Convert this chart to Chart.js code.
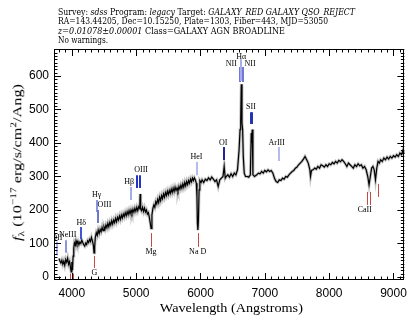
<!DOCTYPE html>
<html><head><meta charset="utf-8">
<script src="https://cdn.jsdelivr.net/npm/chart.js@4/dist/chart.umd.min.js"></script>
<style>
html,body{margin:0;padding:0;background:#fff;}
#wrap{position:relative;width:413px;height:315px;overflow:hidden;background:#fff;}
canvas{position:absolute;left:0;top:0;}
.t{position:absolute;white-space:nowrap;font-family:"DejaVu Serif",serif;color:#000;line-height:1;}
.h{font-size:9px;transform-origin:0 0;left:58px;}
.s{font-family:"Liberation Serif",serif;}
sup{font-size:70%;vertical-align:0.55em;line-height:0;}
sub{font-size:70%;vertical-align:-0.3em;line-height:0;}
</style></head><body>
<div id="wrap">
<canvas id="c" width="413" height="315"></canvas>
<div class="t h" id="h1" style="top:8px">Survey: <i>sdss</i> Program: <i>legacy</i> Target: <i>GALAXY_RED GALAXY QSO_REJECT</i></div>
<div class="t h" id="h2" style="top:17px">RA=143.44205, Dec=10.15250, Plate=1303, Fiber=443, MJD=53050</div>
<div class="t h" id="h3" style="top:27px"><i>z=0.01078±0.00001</i> Class=GALAXY AGN BROADLINE</div>
<div class="t h" id="h4" style="top:36px">No warnings.</div>
<div class="t s" id="ytitle" style="font-size:13px"><i>f</i><sub>λ</sub> (10<sup>−17</sup> erg/s/cm<sup>2</sup>/Ang)</div>
<div class="t s" id="xtitle" style="font-size:13px">Wavelength (Angstroms)</div>
</div>
<script>
// ---- data ----
const waves = [3800,3815,3830,3845,3860,3875,3890,3905,3920,3935,3950,3965,3980,3990,4000,4010,4020,4030,4040,4055,4065,4080,4095,4110,4125,4140,4155,4170,4185,4200,4215,4230,4245,4260,4275,4290,4305,4320,4335,4345,4355,4365,4380,4395,4410,4425,4440,4455,4470,4485,4500,4515,4530,4545,4560,4575,4590,4605,4620,4635,4650,4665,4680,4695,4710,4725,4740,4755,4770,4785,4800,4815,4830,4845,4860,4875,4890,4905,4920,4935,4950,4965,4980,4995,5010,5025,5040,5055,5062,5070,5085,5100,5115,5130,5145,5160,5175,5190,5205,5220,5232,5245,5260,5275,5290,5305,5320,5335,5350,5365,5380,5395,5410,5425,5440,5455,5470,5485,5500,5515,5530,5545,5560,5575,5590,5605,5620,5635,5650,5665,5680,5695,5710,5725,5740,5755,5770,5785,5800,5815,5830,5845,5860,5875,5890,5905,5920,5935,5945,5952,5960,5968,5978,5990,6010,6025,6050,6075,6100,6125,6150,6175,6200,6225,6250,6275,6300,6325,6350,6368,6385,6400,6425,6450,6475,6500,6525,6550,6575,6600,6615,6625,6634,6645,6655,6665,6680,6700,6725,6750,6775,6789,6796,6804,6815,6840,6875,6900,6925,6950,6975,7000,7025,7050,7075,7100,7125,7150,7175,7200,7225,7250,7275,7300,7325,7350,7375,7400,7425,7450,7475,7500,7525,7550,7575,7600,7625,7650,7675,7700,7710,7725,7750,7775,7800,7825,7850,7875,7900,7925,7950,7975,8000,8025,8050,8075,8100,8125,8150,8175,8200,8225,8250,8275,8300,8325,8350,8375,8400,8425,8450,8475,8500,8525,8550,8575,8600,8620,8640,8660,8680,8700,8720,8740,8760,8780,8800,8825,8850,8875,8900,8925,8950,8975,9000,9025,9050,9075,9100,9125,9150,9175,9200];
const flux = [55,48,42,50,38,47,35,52,44,56,38,46,28,15,45,20,62,85,102,95,108,98,106,96,104,100,110,103,96,92,101,97,108,103,112,106,118,108,95,72,90,118,132,124,140,130,142,135,148,138,150,142,155,147,160,150,163,155,168,158,170,162,175,165,178,170,182,172,185,176,188,180,192,183,195,186,198,188,200,190,202,193,205,196,208,198,210,205,248,205,198,208,196,206,194,200,188,192,178,160,145,185,205,215,208,225,218,232,222,238,228,243,234,248,238,252,243,256,246,258,249,262,252,265,255,268,258,266,256,270,262,274,265,278,268,282,272,285,276,288,280,292,284,295,288,296,290,280,240,160,140,170,260,288,282,290,282,292,288,296,290,298,292,285,290,270,290,295,300,330,295,300,305,298,308,300,310,305,320,380,440,470,575,460,440,360,310,300,300,298,305,430,400,440,305,300,305,310,308,315,310,318,314,320,315,318,310,295,285,282,290,288,295,292,300,298,305,310,315,318,325,328,335,340,345,352,360,350,340,320,300,318,320,325,322,330,325,335,332,328,335,330,338,335,342,338,345,340,348,344,350,345,338,330,340,335,330,325,335,330,338,332,335,325,330,320,300,275,300,325,330,320,290,325,345,340,350,345,355,350,358,352,360,355,362,358,365,360,370,365,380,368,375];
const xTickValues = [4000,5000,6000,7000,8000,9000];
const yTickValues = [0,100,200,300,400,500,600];
const xRange = [3723, 9169];
const yRange = [-9, 680.6];

// emission line markers (observed wavelengths, flux range of bar, label position)
const emName   = ['OII','NeIII','Hδ','Hγ','OIII','Hβ','OIII','HeI','OI','NII','Hα','NII','SII','ArIII'];
const emWaves  = [[3767],[3911],[4146],[4387],[4410],[4913],[5012,5061],[5939],[6368],[6619],[6634],[6655],[6789,6804],[7213]];
const emLow    = [65,72,113,194,161,230,266,304,349,582,585,582,457,346];
const emHigh   = [105,110,149,230,200,269,304,343,388,627,650,627,492,388];
const emLabelX = [3767,3935,4146,4385,4508,4892,5077,5938,6354,6480,6634,6770,6785,7185];
const emLabelY = [118,125,161,245,215,283,319,358,400,636,657,636,507,400];
const emColor  = ['#aab2ea','#8c94dc','#4454d4','#8c94e2','#6c78cc','#a4acea','#2434c4','#b4bcec','#22229a','#7078d8','#a8acea','#7078d8','#2434b4','#b4bcec'];

// absorption line markers
const abName   = ['','G','Mg','Na D','CaII'];
const abWaves  = [[3976,4012],[4350],[5231],[5956],[8590,8634]];
const abLow    = [-15,27,90,90,215];
const abHigh   = [10,63,131,131,254];
const abLabelX = [4000,4350,5231,5956,8554];
const abLabelY = [-30,12,75,75,200];
const abExtraWave = [8755], abExtraLow=[239], abExtraHigh=[278];

const pts = waves.map((w,i)=>({x:w,y:flux[i]}));

const decor = {
  id:'decor',
  afterDatasetsDraw(chart){
    const {ctx, chartArea:a, scales:{x,y}} = chart;
    ctx.save();
    ctx.beginPath(); ctx.rect(a.left,a.top,a.right-a.left,a.bottom-a.top); ctx.clip();
    const bar = (w,lo,hi,col,lw)=>{
      const px = Math.round(x.getPixelForValue(w)) + (lw%2 ? 0.5 : 0);
      ctx.strokeStyle=col; ctx.lineWidth=lw;
      ctx.beginPath(); ctx.moveTo(px,y.getPixelForValue(lo)); ctx.lineTo(px,y.getPixelForValue(hi)); ctx.stroke();
    };
    ctx.font='8px "Liberation Serif", serif'; ctx.fillStyle='#000';
    ctx.textAlign='center'; ctx.textBaseline='middle';
    emName.forEach((n,i)=>{
      emWaves[i].forEach(w=>bar(w,emLow[i],emHigh[i],emColor[i],2));
      ctx.fillText(n, x.getPixelForValue(emLabelX[i]), y.getPixelForValue(emLabelY[i]));
    });
    abName.forEach((n,i)=>{
      abWaves[i].forEach(w=>bar(w,abLow[i],abHigh[i],'#c84848',1));
      if(n) ctx.fillText(n, x.getPixelForValue(abLabelX[i]), y.getPixelForValue(abLabelY[i]));
    });
    abExtraWave.forEach((w,i)=>bar(w,abExtraLow[i],abExtraHigh[i],'#c84848',1));
    ctx.restore();

    // frame + ticks on all four sides
    ctx.save();
    ctx.strokeStyle='#000'; ctx.lineWidth=1;
    ctx.strokeRect(Math.round(a.left)+0.5, Math.round(a.top)+0.5, Math.round(a.right-a.left)-1, Math.round(a.bottom-a.top)-1);
    ctx.beginPath();
    const xMinor = 100, yMinor = 10;
    for(let v=Math.ceil(x.min/xMinor)*xMinor; v<=x.max; v+=xMinor){
      const px = Math.round(x.getPixelForValue(v))+0.5;
      const len = xTickValues.includes(v)?7:3.5;
      ctx.moveTo(px,a.bottom); ctx.lineTo(px,a.bottom-len);
      ctx.moveTo(px,a.top); ctx.lineTo(px,a.top+len);
    }
    for(let v=Math.ceil(y.min/yMinor)*yMinor; v<=y.max; v+=yMinor){
      const py = Math.round(y.getPixelForValue(v))+0.5;
      const len = yTickValues.includes(v)?7:3.5;
      ctx.moveTo(a.left,py); ctx.lineTo(a.left+len,py);
      ctx.moveTo(a.right,py); ctx.lineTo(a.right-len,py);
    }
    ctx.stroke();
    ctx.restore();
  }
};

new Chart(document.getElementById('c'), {
  type:'line',
  data:{datasets:[
    {data:pts, borderColor:'#c4c4c4', borderWidth:3, pointRadius:0, tension:0, order:2},
    {data:pts, borderColor:'#000', borderWidth:1.2, pointRadius:0, tension:0, order:1}
  ]},
  options:{
    responsive:false, animation:false, devicePixelRatio:1,
    plugins:{legend:{display:false}, tooltip:{enabled:false}, title:{display:false}},
    layout:{padding:{left:0,right:5,top:49,bottom:0}},
    scales:{
      x:{type:'linear', min:xRange[0], max:xRange[1],
         afterBuildTicks:s=>{s.ticks = xTickValues.map(v=>({value:v}));},
         afterFit:s=>{s.height=35;},
         grid:{display:false, drawTicks:false}, border:{display:false},
         ticks:{color:'#000', padding:6, maxRotation:0, autoSkip:false, callback:v=>String(v), font:{family:'Liberation Sans', size:12}}},
      y:{type:'linear', min:yRange[0], max:yRange[1],
         afterBuildTicks:s=>{s.ticks = yTickValues.map(v=>({value:v}));},
         afterFit:s=>{s.width=54;},
         grid:{display:false, drawTicks:false}, border:{display:false},
         ticks:{color:'#000', padding:5, autoSkip:false, callback:v=>String(v), font:{family:'Liberation Sans', size:12}}}
    }
  },
  plugins:[decor]
});

// ---- text fitting ----
function fitLeft(id,w){const el=document.getElementById(id);const k=w/el.getBoundingClientRect().width;el.style.transform='scaleX('+k+')';}
fitLeft('h1',297); fitLeft('h2',270); fitLeft('h3',227); fitLeft('h4',50);
function place(id,cx,cy,len,rot){
  const el=document.getElementById(id);
  const r=el.getBoundingClientRect();
  el.style.left=(cx-r.width/2)+'px'; el.style.top=(cy-r.height/2)+'px';
  el.style.transformOrigin='50% 50%';
  el.style.transform=(rot?'rotate(-90deg) ':'')+'scaleX('+(len/r.width)+')';
}
place('ytitle',17,162,157,true);
place('xtitle',231,307,143,false);
</script>
</body></html>
